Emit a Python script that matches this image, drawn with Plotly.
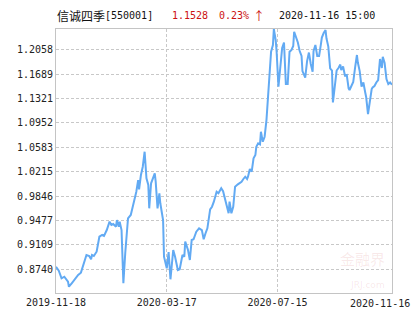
import plotly.graph_objects as go

dates = [
    "2019-11-18", "2019-11-21", "2019-11-24", "2019-11-27", "2019-12-01", "2019-12-02", "2019-12-05",
    "2019-12-08", "2019-12-12", "2019-12-15", "2019-12-18", "2019-12-21", "2019-12-24", "2019-12-26",
    "2019-12-27", "2019-12-29", "2020-01-01", "2020-01-04", "2020-01-07", "2020-01-09", "2020-01-12",
    "2020-01-15", "2020-01-17", "2020-01-19", "2020-01-22", "2020-01-23", "2020-01-25", "2020-01-26",
    "2020-01-28", "2020-01-30", "2020-02-01", "2020-02-03", "2020-02-04", "2020-02-07", "2020-02-09",
    "2020-02-11", "2020-02-13", "2020-02-15", "2020-02-16", "2020-02-18", "2020-02-20", "2020-02-22",
    "2020-02-24", "2020-02-26", "2020-02-27", "2020-02-29", "2020-03-02", "2020-03-04", "2020-03-05",
    "2020-03-07", "2020-03-09", "2020-03-10", "2020-03-13", "2020-03-14", "2020-03-17", "2020-03-19",
    "2020-03-21", "2020-03-24", "2020-03-26", "2020-03-29", "2020-03-31", "2020-04-03", "2020-04-05",
    "2020-04-06", "2020-04-09", "2020-04-11", "2020-04-13", "2020-04-15", "2020-04-18", "2020-04-21",
    "2020-04-24", "2020-04-26", "2020-04-28", "2020-04-30", "2020-05-03", "2020-05-05", "2020-05-07",
    "2020-05-10", "2020-05-12", "2020-05-15", "2020-05-17", "2020-05-18", "2020-05-20", "2020-05-23",
    "2020-05-24", "2020-05-26", "2020-05-28", "2020-05-30", "2020-06-02", "2020-06-06", "2020-06-08",
    "2020-06-10", "2020-06-12", "2020-06-13", "2020-06-15", "2020-06-17", "2020-06-19", "2020-06-21",
    "2020-06-22", "2020-06-24", "2020-06-26", "2020-06-27", "2020-06-29", "2020-07-01", "2020-07-03",
    "2020-07-05", "2020-07-06", "2020-07-07", "2020-07-08", "2020-07-10", "2020-07-11", "2020-07-13",
    "2020-07-14", "2020-07-16", "2020-07-18", "2020-07-20", "2020-07-22", "2020-07-24", "2020-07-26",
    "2020-07-28", "2020-07-30", "2020-08-01", "2020-08-02", "2020-08-04", "2020-08-06", "2020-08-08",
    "2020-08-10", "2020-08-11", "2020-08-14", "2020-08-16", "2020-08-18", "2020-08-20", "2020-08-22",
    "2020-08-23", "2020-08-25", "2020-08-27", "2020-08-29", "2020-08-31", "2020-09-01", "2020-09-03",
    "2020-09-05", "2020-09-06", "2020-09-08", "2020-09-10", "2020-09-12", "2020-09-13", "2020-09-15",
    "2020-09-17", "2020-09-19", "2020-09-21", "2020-09-22", "2020-09-24", "2020-09-26", "2020-09-28",
    "2020-09-30", "2020-10-01", "2020-10-03", "2020-10-05", "2020-10-07", "2020-10-09", "2020-10-10",
    "2020-10-12", "2020-10-14", "2020-10-16", "2020-10-18", "2020-10-19", "2020-10-21", "2020-10-23",
    "2020-10-25", "2020-10-26", "2020-10-28", "2020-10-30", "2020-11-01", "2020-11-03", "2020-11-05",
    "2020-11-06", "2020-11-08", "2020-11-10", "2020-11-12", "2020-11-14", "2020-11-16",
]

nav = [
    0.8779, 0.8719, 0.8604, 0.8628, 0.8553, 0.8477, 0.8529, 0.8589, 0.8654, 0.8689,
    0.8831, 0.8956, 0.8941, 0.8891, 0.8956, 0.8941, 0.9006, 0.9232, 0.9258, 0.9243,
    0.9333, 0.9459, 0.9409, 0.9424, 0.9383, 0.9484, 0.9383, 0.9459, 0.9333, 0.8529,
    0.8982, 0.9333, 0.9510, 0.9560, 0.9685, 0.9761, 0.9912, 1.0088, 0.9948, 1.0164,
    1.0289, 1.0516, 1.0114, 1.0013, 0.9661, 1.0039, 1.0114, 1.0190, 1.0063, 0.9661,
    0.9888, 0.9737, 0.9484, 0.8930, 0.8755, 0.9001, 0.8589, 0.9031, 0.8930, 0.8729,
    0.8740, 0.8956, 0.8930, 0.9157, 0.9031, 0.8880, 0.9182, 0.9193, 0.9308, 0.9359,
    0.9333, 0.9193, 0.9284, 0.9359, 0.9646, 0.9685, 0.9761, 0.9912, 0.9888, 0.9963,
    0.9919, 0.9862, 0.9711, 0.9586, 0.9761, 0.9586, 0.9685, 0.9987, 1.0023, 1.0063,
    1.0104, 1.0138, 1.0104, 1.0138, 1.0255, 1.0214, 1.0416, 1.0466, 1.0591, 1.0643,
    1.0628, 1.0818, 1.0667, 1.0742, 1.0994, 1.1417, 1.1549, 1.1825, 1.2026, 1.2127,
    1.2369, 1.2202, 1.2026, 1.1497, 1.1795, 1.2082, 1.2165, 1.1538, 1.1538, 1.2026,
    1.2051, 1.2112, 1.2328, 1.2240, 1.2165, 1.2036, 1.1961, 1.1734, 1.1636, 1.1885,
    1.2013, 1.1840, 1.1724, 1.2036, 1.2127, 1.1961, 1.1961, 1.2142, 1.2240, 1.2308,
    1.2353, 1.2228, 1.2104, 1.1775, 1.1742, 1.1259, 1.1523, 1.1742, 1.1780, 1.1832,
    1.1749, 1.1802, 1.1666, 1.1674, 1.1473, 1.1448, 1.1508, 1.1568, 1.1787, 1.1976,
    1.1863, 1.1734, 1.1500, 1.1561, 1.1410, 1.1342, 1.1085, 1.1322, 1.1462, 1.1485,
    1.1508, 1.1561, 1.1598, 1.1916, 1.1780, 1.1950, 1.1855, 1.1613, 1.1538, 1.1561,
    1.1528,
]

assert len(dates) == len(nav), (len(dates), len(nav))

y_ticks = [0.8740, 0.9109, 0.9477, 0.9846, 1.0215, 1.0583, 1.0952, 1.1321, 1.1689, 1.2058]
y_tick_text = ["0.8740", "0.9109", "0.9477", "0.9846", "1.0215", "1.0583", "1.0952", "1.1321", "1.1689", "1.2058"]
x_ticks = ["2019-11-18", "2020-03-17", "2020-07-15"]
x_last_label = "2020-11-16"
x_range = ["2019-11-18", "2020-11-16"]
y_range = [0.8382, 1.2369]

fund_name = "信诚四季"
fund_code = "[550001]"
last_nav = "1.1528"
change = "0.23%"
arrow = "↑"
stamp = "2020-11-16 15:00"

MONO = "DejaVu Sans Mono"
CJK = "Noto Sans CJK SC"
GRID = "#c8c8c8"
RED = "#cc1111"

fig = go.Figure()
fig.add_trace(go.Scatter(
    x=dates, y=nav, mode="lines",
    line=dict(color="#62aaf3", width=2),
    hoverinfo="skip", showlegend=False,
))

fig.update_layout(
    width=415, height=330,
    margin=dict(l=56, r=23, t=29, b=37),
    paper_bgcolor="white", plot_bgcolor="white",
    font=dict(family=MONO, size=10, color="#222222"),
    showlegend=False,
    xaxis=dict(
        type="date", range=x_range,
        tickmode="array", tickvals=x_ticks, ticktext=x_ticks,
        showgrid=True, gridcolor=GRID, griddash="3px,2px", gridwidth=1,
        showline=True, linecolor="#c4c4c4", linewidth=1, mirror=True,
        ticks="", zeroline=False, fixedrange=True,
        tickfont=dict(family=MONO, size=10, color="#222222"),
    ),
    yaxis=dict(
        range=y_range,
        tickmode="array", tickvals=y_ticks, ticktext=y_tick_text,
        showgrid=True, gridcolor=GRID, griddash="3px,2px", gridwidth=1,
        showline=True, linecolor="#c4c4c4", linewidth=1, mirror=True,
        ticks="", zeroline=False, fixedrange=True,
        tickfont=dict(family=MONO, size=10, color="#222222"),
    ),
)

def txt(text, x, color="#111111", family=MONO, size=10):
    fig.add_annotation(
        text=text, xref="paper", yref="paper",
        x=(x - 56) / 336, y=1 + (29 - 15.5) / 264,
        xanchor="left", yanchor="middle", showarrow=False,
        font=dict(family=family, size=size, color=color),
    )

txt(fund_name, 55, family=CJK, size=12)
txt(fund_code, 103)
txt(last_nav, 170, color=RED)
txt(change, 217, color=RED)
txt(arrow, 251, color=RED, family=CJK, size=12)
txt(stamp, 277)

fig.add_annotation(
    text=x_last_label, xref="x", yref="paper", x=x_range[1], y=0,
    xanchor="right", yanchor="top", xshift=20, yshift=-3, showarrow=False,
    font=dict(family=MONO, size=10, color="#222222"),
)

# faint watermark
fig.add_annotation(
    text="金融界", xref="paper", yref="paper", x=0.985, y=0.13,
    xanchor="right", yanchor="middle", showarrow=False,
    font=dict(family=CJK, size=15, color="rgba(205,80,80,0.13)"),
)
fig.add_annotation(
    text="JRJ.com", xref="paper", yref="paper", x=0.985, y=0.03,
    xanchor="right", yanchor="middle", showarrow=False,
    font=dict(family="DejaVu Sans", size=9, color="rgba(205,80,80,0.13)"),
)

fig.write_html("out.html")
